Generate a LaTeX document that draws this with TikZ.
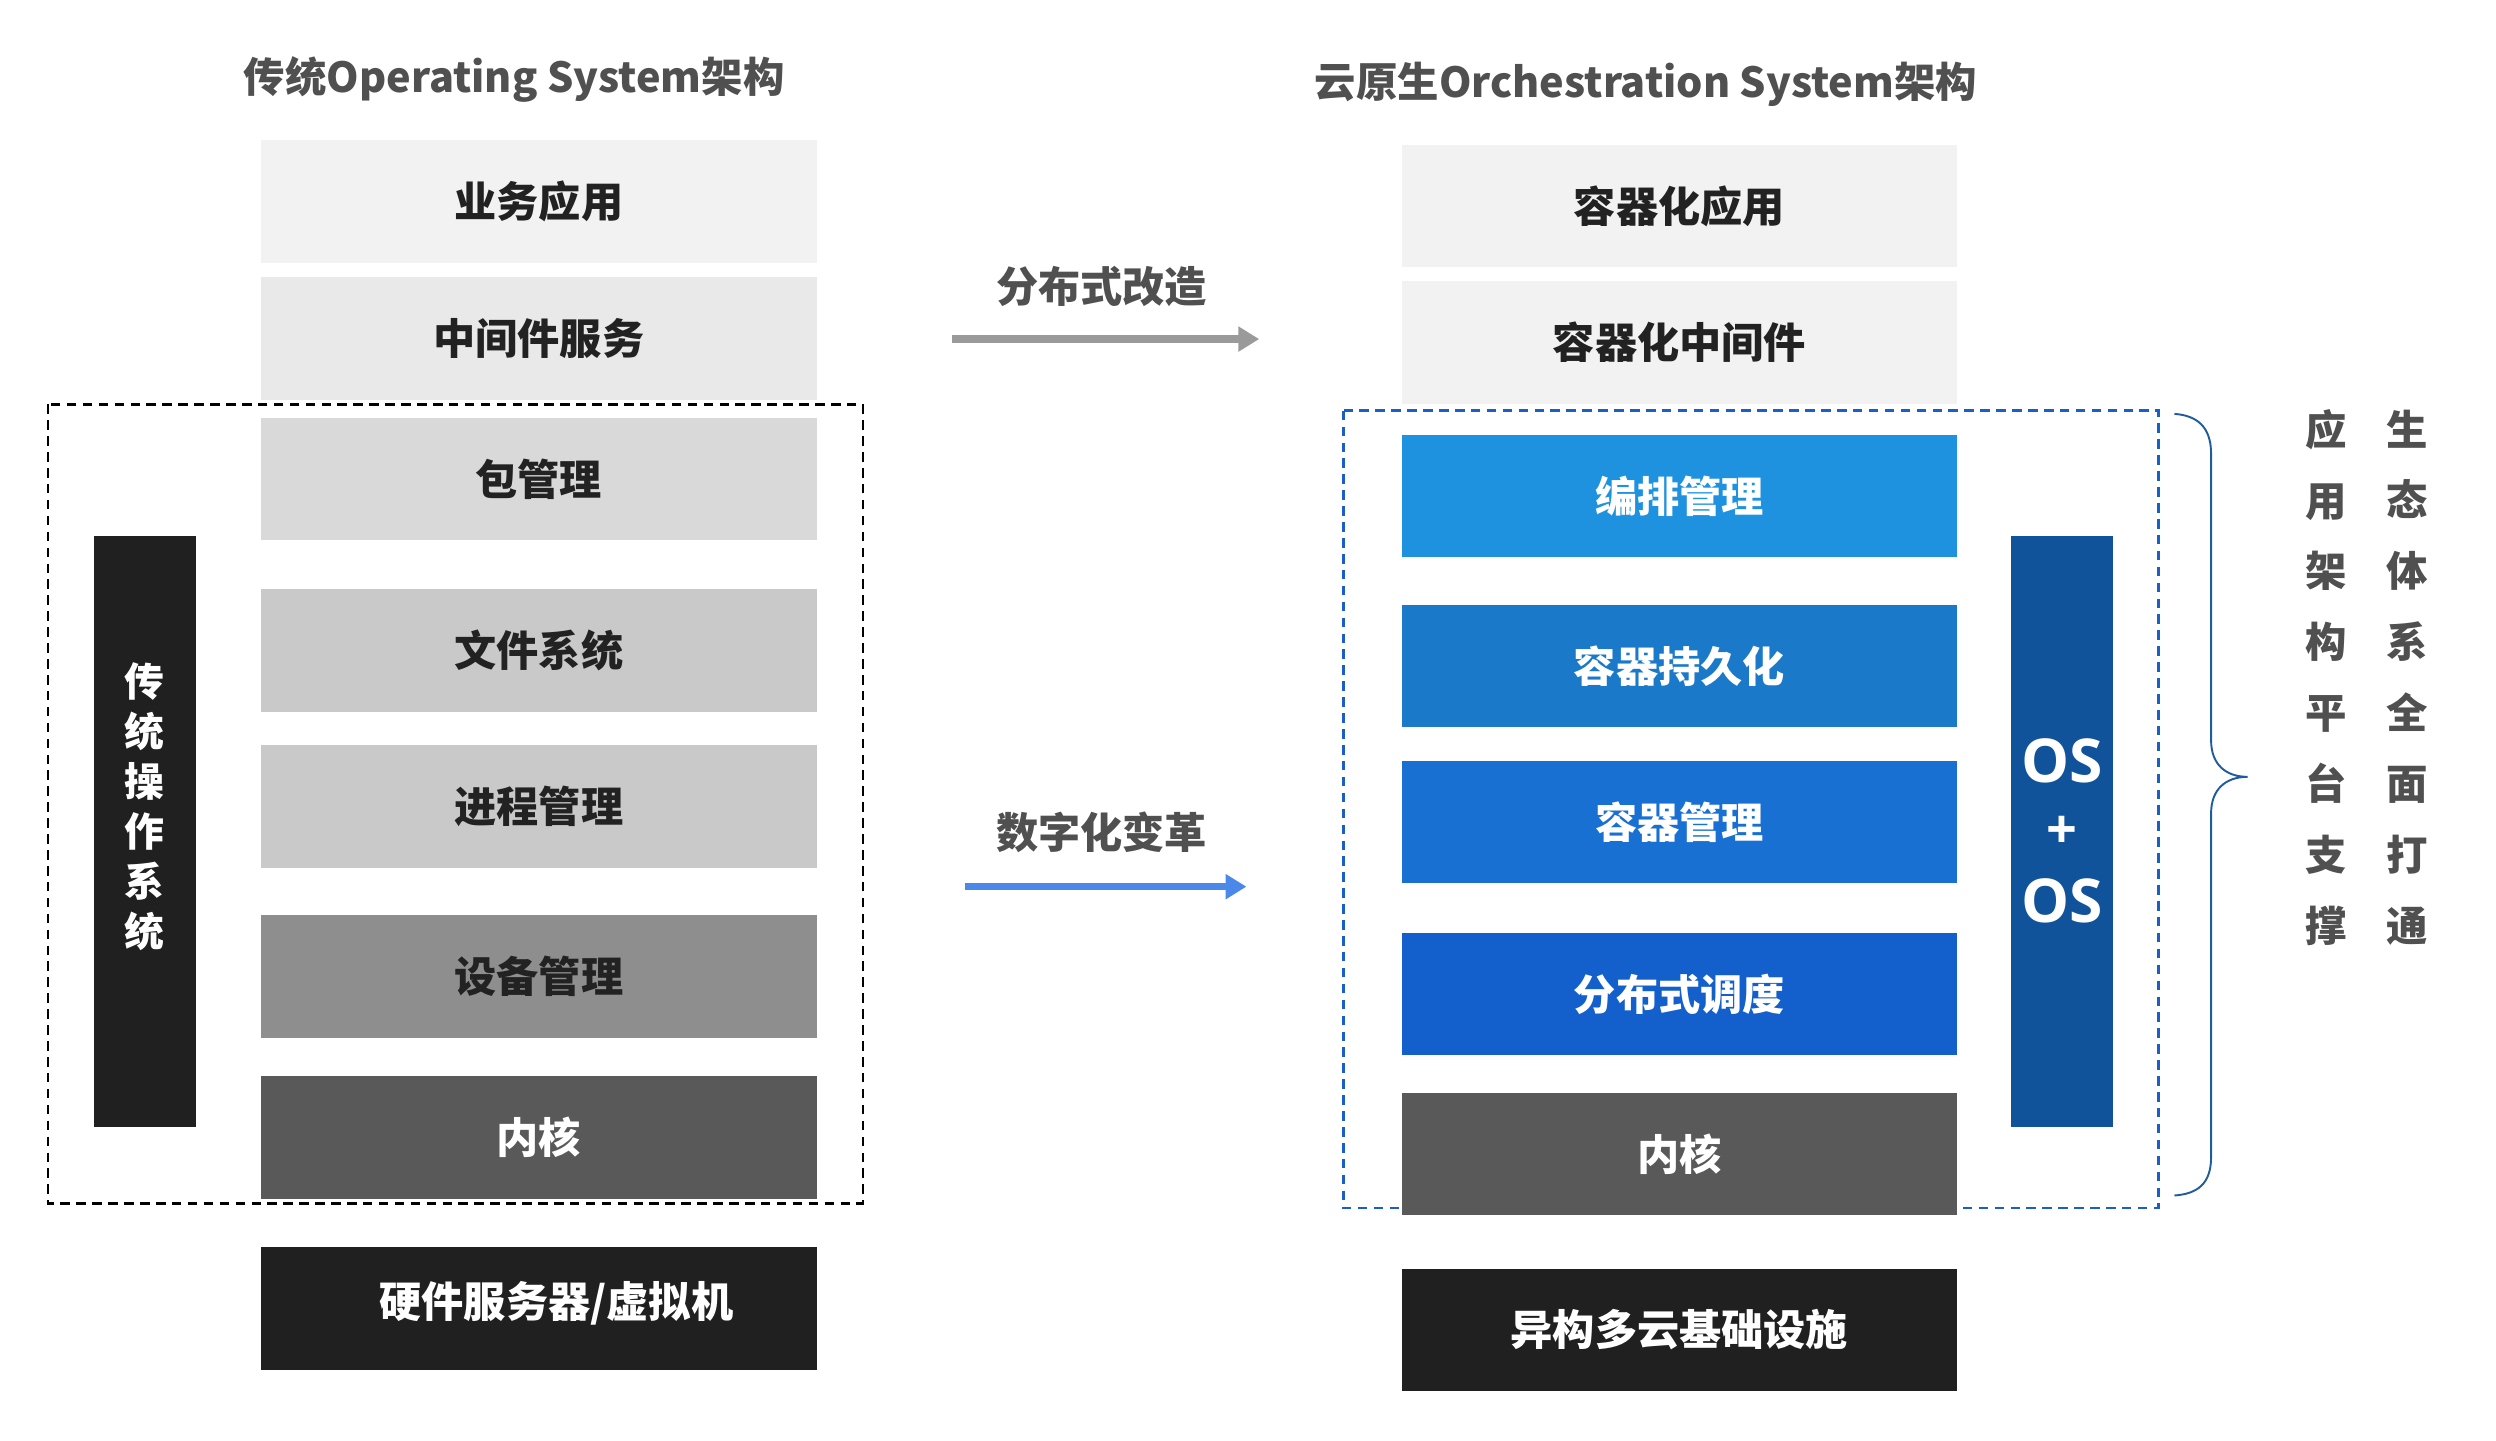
\documentclass[tikz,border=0pt]{standalone}
\usepackage{fontspec}
\setmainfont{Noto Sans CJK SC}
\newfontfamily\osfont{Open Sans}
\usetikzlibrary{arrows.meta}
\definecolor{cA}{HTML}{F2F2F2}
\definecolor{cB}{HTML}{E9E9E9}
\definecolor{cC}{HTML}{D9D9D9}
\definecolor{cD}{HTML}{C9C9C9}
\definecolor{cE}{HTML}{8E8E8E}
\definecolor{cF}{HTML}{595959}
\definecolor{cG}{HTML}{202020}
\definecolor{bA}{HTML}{1E92DF}
\definecolor{bB}{HTML}{1A79C8}
\definecolor{bC}{HTML}{1870D3}
\definecolor{bD}{HTML}{1360CC}
\definecolor{bOS}{HTML}{11539B}
\definecolor{bDash}{HTML}{1A5FC8}
\definecolor{brace}{HTML}{1F5C9E}
\definecolor{txtdark}{HTML}{222222}
\definecolor{txtgray}{HTML}{505050}
\definecolor{arrgray}{HTML}{9A9A9A}
\definecolor{arrblue}{HTML}{4A88EA}
\tikzset{
  layer/.style={minimum width=349pt, minimum height=77pt, inner sep=0pt, draw=none,
    font=\fontsize{26.5}{30}\selectfont\bfseries, text=txtdark},
  lightlayer/.style={layer},
  whitelayer/.style={layer, text=white},
  title/.style={font=\fontsize{26}{30}\selectfont\bfseries, text=txtgray, inner sep=0pt},
  arrlabel/.style={font=\fontsize{26.5}{30}\selectfont\bfseries, text=txtgray, inner sep=0pt},
  vtext/.style={align=center, inner sep=0pt, font=\fontsize{26}{44.5}\selectfont\bfseries, text=txtgray},
}
\begin{document}
\begin{tikzpicture}[x=1pt,y=-1pt]
\useasboundingbox (0,0) rectangle (1568,905);
\fill[white] (0,0) rectangle (1568,905);

% dashed frames
\draw[black, line width=1.5pt, dash pattern=on 6pt off 4pt] (30,254) rectangle (542,756);
\draw[bDash, line width=1.6pt, dash pattern=on 6pt off 4pt] (844,258) rectangle (1356,759);

% titles
\node[title] (tl) at (323,50) {传统Operating System架构};
\node[title] (tr) at (1034,53) {云原生Orchestration System架构};

% left stack
\node[lightlayer, fill=cA] (l1) at (338.5,126.5) {业务应用};
\node[lightlayer, fill=cB] (l2) at (338.5,212.5) {中间件服务};
\node[lightlayer, fill=cC] (l3) at (338.5,301) {包管理};
\node[lightlayer, fill=cD] (l4) at (338.5,408.5) {文件系统};
\node[lightlayer, fill=cD] (l5) at (338.5,506.5) {进程管理};
\node[lightlayer, fill=cE] (l6) at (338.5,613.5) {设备管理};
\node[whitelayer, fill=cF] (l7) at (338.5,714.5) {内核};
\node[whitelayer, fill=cG] (l8) at (338.5,822) {\raisebox{3pt}[\height][\depth]{\hspace*{22pt}硬件服务器/虚拟机}};

% left OS bar
\node[fill=cG, minimum width=64pt, minimum height=371pt, inner sep=0pt] (lbar) at (91,522.5) {};
\node[align=center, inner sep=0pt, text=white, font=\fontsize{25}{31.4}\selectfont\bfseries] (lbartxt) at (91,506.5) {传\\统\\操\\作\\系\\统};

% right stack
\node[lightlayer, fill=cA] (r1) at (1055,129.5) {容器化应用};
\node[lightlayer, fill=cA] (r2) at (1055,215) {容器化中间件};
\node[whitelayer, fill=bA] (r3) at (1055,311.5) {编排管理};
\node[whitelayer, fill=bB] (r4) at (1055,418.5) {容器持久化};
\node[whitelayer, fill=bC] (r5) at (1055,516.5) {容器管理};
\node[whitelayer, fill=bD] (r6) at (1055,624.5) {分布式调度};
\node[whitelayer, fill=cF] (r7) at (1055,725) {内核};
\node[whitelayer, fill=cG] (r8) at (1055,835.5) {异构多云基础设施};

% OS + OS bar
\node[fill=bOS, minimum width=64pt, minimum height=371pt, inner sep=0pt] (rbar) at (1295.5,522.5) {};
\node[text=white, inner sep=0pt, font=\osfont\fontsize{38}{40}\selectfont\bfseries] (os1) at (1295.5,478) {OS};
\node[text=white, inner sep=0pt, font=\osfont\fontsize{34}{40}\selectfont\bfseries] (osp) at (1295.5,523) {+};
\node[text=white, inner sep=0pt, font=\osfont\fontsize{38}{40}\selectfont\bfseries] (os2) at (1295.5,566) {OS};

% brace
\draw[brace, line width=1.2pt]
  (1366,260) .. controls (1380,261) and (1389,268) .. (1389,285)
  -- (1389,465) .. controls (1389,480) and (1398,488) .. (1412,488)
  .. controls (1398,488) and (1389,496) .. (1389,511)
  -- (1389,727) .. controls (1389,744) and (1380,750) .. (1366,751);

% right vertical texts
\node[vtext] (v1) at (1461,425.5) {应\\用\\架\\构\\平\\台\\支\\撑};
\node[vtext] (v2) at (1512,425.5) {生\\态\\体\\系\\全\\面\\打\\通};

% arrows
\node[arrlabel] (a1lab) at (692,180) {分布式改造};
\coordinate (a1s) at (598,213);
\coordinate (a1e) at (791,213);
\draw[arrgray, line width=5pt, -{Triangle[length=13pt,width=15pt]}] (a1s) -- (a1e);

\node[arrlabel] (a2lab) at (692,523) {数字化变革};
\coordinate (a2s) at (606,557);
\coordinate (a2e) at (783,557);
\draw[arrblue, line width=4.5pt, -{Triangle[length=13pt,width=15pt]}] (a2s) -- (a2e);
\end{tikzpicture}
\end{document}
